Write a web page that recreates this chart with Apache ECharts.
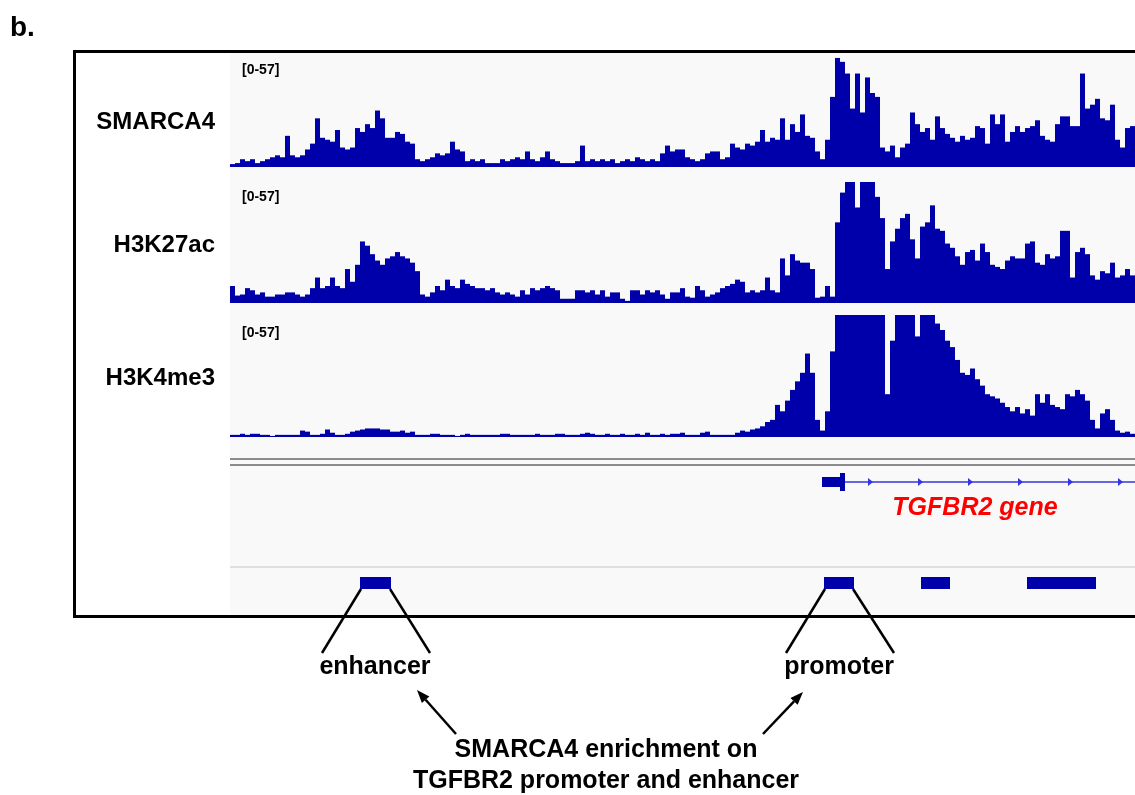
<!DOCTYPE html>
<html><head><meta charset="utf-8">
<script src="https://cdn.jsdelivr.net/npm/echarts/dist/echarts.min.js"></script>
<style>html,body{margin:0;padding:0;background:#fff}#c{width:1135px;height:795px}</style>
</head><body><div id="c"></div>
<script>
// ---------------- data ----------------
const trackNames = ['SMARCA4', 'H3K27ac', 'H3K4me3'];
const rangeLabel = '[0-57]';
const yMax = 57;
const smarca4 = [
 1.5,2,4,3,4,2,3,4,5,6,
 5,16,6,5,6,9,12,25,15,14,
 13,19,10,9,10,20,18,22,20,29,
 25,15,15,18,17,13,12,4,3,4,
 5,7,6,7,13,9,8,3,4,3,
 4,2,2,2,4,3,4,5,4,8,
 4,3,5,8,4,3,2,2,2,3,
 11,3,4,3,4,3,4,2,3,4,
 3,5,4,3,4,3,7,11,8,9,
 9,5,4,3,4,7,8,8,4,5,
 12,10,9,12,11,13,19,13,15,14,
 25,14,22,18,27,16,15,8,4,14,
 36,56,54,48,30,48,28,46,38,36,
 10,8,11,5,10,12,28,22,18,20,
 14,26,20,17,15,13,16,14,15,21,
 20,12,27,22,27,13,18,21,18,20,
 21,24,16,14,13,22,26,26,21,21,
 48,30,32,35,25,24,32,14,10,20,21
];
const h3k27ac = [
 8,3.5,4,7,6,4,5,3,3,4,
 4,5,5,4,3,4,7,12,7,8,
 12,8,7,16,10,18,29,27,23,20,
 18,21,22,24,22,21,19,15,4,3,
 5,8,6,11,8,7,11,9,8,7,
 7,6,7,5,4,5,4,3,6,4,
 7,6,7,8,7,6,2,2,2,6,
 6,5,6,4,6,3,5,5,2,1,
 6,6,4,6,5,6,4,2,5,5,
 7,3,2.5,8,6,3,4,5,7,8,
 9,11,10,5,6,5,6,12,6,5,
 21,13,23,20,19,19,16,2.5,3,8,
 3,38,52,57,57,45,57,57,57,50,
 40,16,29,35,40,42,30,21,36,38,
 46,35,34,28,26,22,18,24,25,20,
 28,24,18,17,16,20,22,21,21,28,
 29,19,18,23,21,22,34,34,12,24,
 26,23,13,11,15,14,19,12,13,16,13
];
const h3k4me3 = [
 1,1,1.5,1,1.5,1.5,1,1,0.5,1,
 1,1,1,1,3,2.5,1,1,1.5,3.5,
 2,1,1,1.5,2.5,3,3.5,4,4,4,
 3.5,3.5,2.5,2.5,3,2,2.5,1,1,1,
 1.5,1.5,1,1,1,0.5,1,1.5,1,1,
 1,1,1,1,1.5,1.5,1,1,1,1,
 1,1.5,1,1,1,1.5,1.5,1,1,1,
 1.5,2,1.5,1,1,1.5,1,1,1.5,1,
 1,1.5,1,2,1,1,1.5,1,1.5,1.5,
 2,1,1,1,2,2.5,1,1,1,1,
 1,2,3,2.5,3.5,4,5,7,8,15,
 12,17,22,26,30,39,30,8,3,12,
 40,57,57,57,57,57,57,57,57,57,
 57,20,45,57,57,57,57,47,57,57,
 57,53,50,45,42,36,30,29,32,27,
 24,20,19,18,16,14,12,14,11,13,
 10,20,16,20,15,14,13,20,19,22,
 20,17,8,4,11,13,8,3,2,2.5,1.5
];
const tracks = [smarca4, h3k27ac, h3k4me3];
const bins = smarca4.length;                 // 181 genomic bins
const categories = smarca4.map((_, i) => 'bin' + i);
// gene model (bin coordinates): [utrStart, exonStart, exonEnd, geneEnd]
const geneModel = [[118.4, 122, 123, 181]];
const geneLabel = 'TGFBR2 gene';
// peak calls (bin coordinates)
const peaks = [[26, 32.2], [118.8, 124.8], [138.2, 144], [159.4, 173.2]];
const annotLabels = ['enhancer', 'promoter'];
const captionLines = ['SMARCA4 enrichment on', 'TGFBR2 promoter and enhancer'];

// ---------------- layout / style ----------------
const FONT = '"Liberation Sans", Arial, sans-serif';
const BLUE = '#0000aa';
const trackGrids = [{top: 56, height: 111}, {top: 182, height: 121}, {top: 315, height: 122}];
const labelY = [122, 245, 378];
const rangeY = [70, 197, 333];

const chart = echarts.init(document.getElementById('c'), null, {renderer: 'canvas'});

const grid = [], xAxis = [], yAxis = [], series = [];
trackGrids.forEach((g, i) => {
  grid.push({left: 230, width: 905, top: g.top, height: g.height});
  xAxis.push({type: 'category', data: categories, gridIndex: i, show: false, boundaryGap: true});
  yAxis.push({type: 'value', min: 0, max: yMax, gridIndex: i, show: false});
  series.push({type: 'bar', xAxisIndex: i, yAxisIndex: i, data: tracks[i], barCategoryGap: '0%', barGap: '0%',
    itemStyle: {color: BLUE}, silent: true, z: 3});
});
// gene grid (3) and peak grid (4)
grid.push({left: 230, width: 905, top: 470, height: 24});
grid.push({left: 230, width: 905, top: 577, height: 12});
[3, 4].forEach(i => {
  xAxis.push({type: 'value', min: 0, max: bins, gridIndex: i, show: false});
  yAxis.push({type: 'value', min: -1, max: 1, gridIndex: i, show: false});
});
series.push({
  type: 'custom', xAxisIndex: 3, yAxisIndex: 3, data: geneModel, silent: true, z: 3,
  renderItem(params, api) {
    const a = api.coord([api.value(0), 0]), b = api.coord([api.value(1), 0]);
    const c = api.coord([api.value(2), 0]), d = api.coord([api.value(3), 0]);
    const cy = a[1];
    const children = [
      {type: 'line', shape: {x1: c[0], y1: cy, x2: d[0], y2: cy}, style: {stroke: '#3434e0', lineWidth: 1.5}},
      {type: 'rect', shape: {x: a[0], y: cy - 5, width: b[0] - a[0], height: 10}, style: {fill: BLUE}},
      {type: 'rect', shape: {x: b[0], y: cy - 9, width: c[0] - b[0], height: 18}, style: {fill: BLUE}}
    ];
    for (let x = c[0] + 25; x < d[0]; x += 50) {
      children.push({type: 'polygon', shape: {points: [[x - 2, cy - 4], [x + 3, cy], [x - 2, cy + 4]]}, style: {fill: '#3434e0'}});
    }
    return {type: 'group', children};
  }
});
series.push({
  type: 'custom', xAxisIndex: 4, yAxisIndex: 4, data: peaks, silent: true, z: 3,
  renderItem(params, api) {
    const s = api.coord([api.value(0), 0]), e = api.coord([api.value(1), 0]);
    return {type: 'rect', shape: {x: s[0], y: s[1] - 6, width: e[0] - s[0], height: 12}, style: {fill: BLUE}};
  }
});

function txt(text, x, y, font, fill, align) {
  return {type: 'text', z: 50, style: {text, x, y, font, fill: fill || '#000',
    textAlign: align || 'center', textVerticalAlign: 'middle', align: align || 'center', verticalAlign: 'middle'}};
}
function ln(x1, y1, x2, y2, stroke, w) {
  return {type: 'line', z: 50, shape: {x1, y1, x2, y2}, style: {stroke, lineWidth: w}};
}
function arrow(x1, y1, x2, y2) {
  const ang = Math.atan2(y2 - y1, x2 - x1), L = 13, W = 5;
  const bx = x2 - L * Math.cos(ang), by = y2 - L * Math.sin(ang);
  const px = -Math.sin(ang) * W, py = Math.cos(ang) * W;
  return [ln(x1, y1, bx, by, '#000', 2.5),
    {type: 'polygon', z: 50, shape: {points: [[x2, y2], [bx + px, by + py], [bx - px, by - py]]}, style: {fill: '#000'}}];
}

const graphic = [
  {type: 'rect', z: -10, shape: {x: 230, y: 53, width: 905, height: 562}, style: {fill: '#f9f9f9'}},
  ln(230, 459, 1135, 459, '#8c8c8c', 2),
  ln(230, 465, 1135, 465, '#8c8c8c', 2),
  ln(230, 567, 1135, 567, '#d6d6de', 1.5),
  txt('b.', 10, 28, 'bold 28px ' + FONT, '#000', 'left'),
  txt(geneLabel, 975, 508, 'italic bold 25px ' + FONT, '#ff0000'),
  {type: 'rect', z: 60, shape: {x: 74.5, y: 51.5, width: 1100, height: 565}, style: {fill: 'none', stroke: '#000', lineWidth: 3}}
];
trackNames.forEach((n, i) => {
  graphic.push(txt(n, 215, labelY[i], 'bold 24px ' + FONT, '#000', 'right'));
  graphic.push(txt(rangeLabel, 242, rangeY[i], 'bold 14px ' + FONT, '#000', 'left'));
});

chart.setOption({animation: false, backgroundColor: '#ffffff', grid, xAxis, yAxis, series, graphic});

// annotations anchored on the peak boxes
const labelCenters = [375, 839];
annotLabels.forEach((lab, k) => {
  const s = chart.convertToPixel({gridIndex: 4}, [peaks[k][0], 0]);
  const e = chart.convertToPixel({gridIndex: 4}, [peaks[k][1], 0]);
  const by = s[1] + 6;
  const cx = labelCenters[k];
  graphic.push(ln(s[0] + 1, by, cx - 53, 653, '#000', 2.5));
  graphic.push(ln(e[0] - 1, by, cx + 55, 653, '#000', 2.5));
  graphic.push(txt(lab, cx, 667, 'bold 25px ' + FONT));
});
captionLines.forEach((t, i) => graphic.push(txt(t, 606, 750 + i * 31, 'bold 25px ' + FONT)));
graphic.push(...arrow(456, 734, 417, 690));
graphic.push(...arrow(763, 734, 803, 692));
chart.setOption({graphic});
</script></body></html>
